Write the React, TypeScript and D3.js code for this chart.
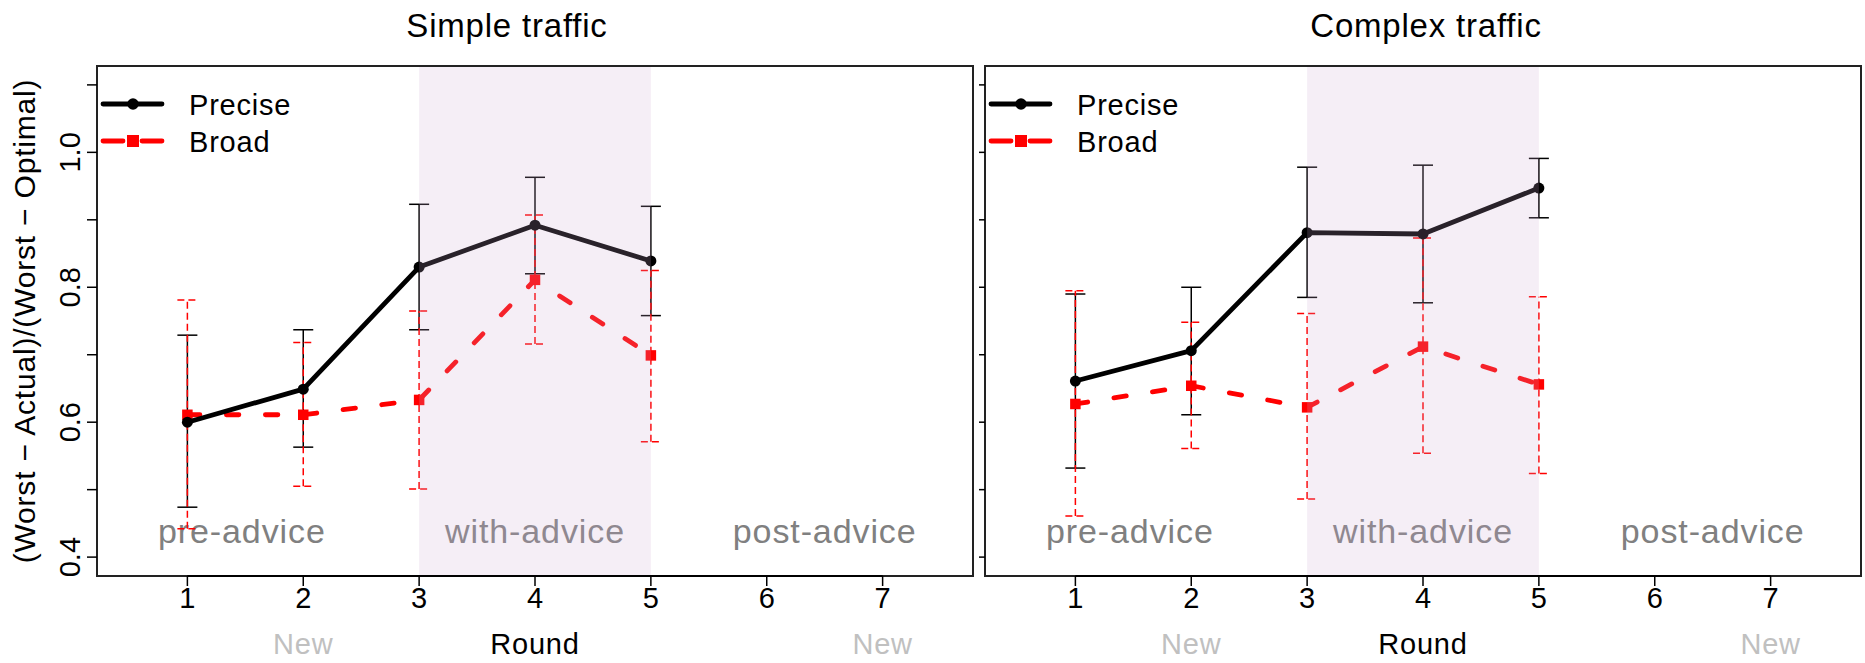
import React from "react";
import * as d3 from "d3";

// Rounds on the x axis and the rounds that carry measurements
const axisRounds = [1, 2, 3, 4, 5, 6, 7];
const rounds = [1, 2, 3, 4, 5];
const newRounds = [2, 7];

// y axis ticks (labels only every second tick)
const yTicks = [0.4, 0.5, 0.6, 0.7, 0.8, 0.9, 1.0, 1.1];
const yTickLabels = [0.4, 0.6, 0.8, 1.0];

// Phases of the experiment
const phaseLabels = ["pre-advice", "with-advice", "post-advice"];
const phaseCenters = [1.47, 4, 6.5];
const adviceSpan = [3, 5];

const panelTitles = ["Simple traffic", "Complex traffic"];
const seriesNames = ["Precise", "Broad"];

// Simple traffic
const simplePreciseMean = [0.600, 0.649, 0.830, 0.892, 0.839];
const simplePreciseLo = [0.474, 0.563, 0.737, 0.820, 0.758];
const simplePreciseHi = [0.729, 0.737, 0.923, 0.963, 0.920];
const simpleBroadMean = [0.611, 0.611, 0.633, 0.811, 0.699];
const simpleBroadLo = [0.442, 0.505, 0.501, 0.716, 0.571];
const simpleBroadHi = [0.781, 0.718, 0.765, 0.907, 0.825];

// Complex traffic
const complexPreciseMean = [0.661, 0.706, 0.881, 0.879, 0.947];
const complexPreciseLo = [0.532, 0.611, 0.785, 0.777, 0.903];
const complexPreciseHi = [0.790, 0.800, 0.978, 0.981, 0.991];
const complexBroadMean = [0.627, 0.654, 0.622, 0.712, 0.656];
const complexBroadLo = [0.461, 0.561, 0.486, 0.554, 0.524];
const complexBroadHi = [0.795, 0.748, 0.761, 0.873, 0.786];

type Series = { mean: number[]; lo: number[]; hi: number[] };

const panels = [
  {
    title: panelTitles[0],
    left: 97,
    titleX: 507,
    tickLen: 10,
    yLabels: true,
    precise: { mean: simplePreciseMean, lo: simplePreciseLo, hi: simplePreciseHi },
    broad: { mean: simpleBroadMean, lo: simpleBroadLo, hi: simpleBroadHi },
  },
  {
    title: panelTitles[1],
    left: 985,
    titleX: 1426,
    tickLen: 6,
    yLabels: false,
    precise: { mean: complexPreciseMean, lo: complexPreciseLo, hi: complexPreciseHi },
    broad: { mean: complexBroadMean, lo: complexBroadLo, hi: complexBroadHi },
  },
];

const W = 1865;
const H = 663;
const PANEL_W = 876;
const TOP = 66;
const BOTTOM = 576;
const FONT = "'Liberation Sans', Arial, Helvetica, sans-serif";
const RED = "#ff0000";
const CAP = 10;

function ErrorBars({ s, x, y, color, dash }: { s: Series; x: any; y: any; color: string; dash?: string }) {
  return (
    <g stroke={color} strokeWidth={1.5} fill="none" strokeDasharray={dash}>
      {rounds.map((r, i) => (
        <g key={r}>
          <line x1={x(r)} x2={x(r)} y1={y(s.lo[i])} y2={y(s.hi[i])} />
          <line x1={x(r) - CAP} x2={x(r) + CAP} y1={y(s.lo[i])} y2={y(s.lo[i])} />
          <line x1={x(r) - CAP} x2={x(r) + CAP} y1={y(s.hi[i])} y2={y(s.hi[i])} />
        </g>
      ))}
    </g>
  );
}

function Panel({ p }: { p: (typeof panels)[number] }) {
  const x = d3.scaleLinear().domain([0.22, 7.78]).range([p.left, p.left + PANEL_W]);
  const y = d3.scaleLinear().domain([0.372, 1.128]).range([BOTTOM, TOP]);
  const line = d3
    .line<number>()
    .x((_, i) => x(rounds[i]))
    .y((d) => y(d));

  const lx0 = p.left + 6;
  const lx1 = p.left + 65;
  const lm = p.left + 36;
  const ly = [104, 141];

  return (
    <g fontFamily={FONT}>
      {/* title */}
      <text x={p.titleX} y={37} fontSize={33} letterSpacing={0.8} textAnchor="middle" fill="#000">
        {p.title}
      </text>

      {/* phase labels */}
      {phaseLabels.map((t, i) => (
        <text
          key={t}
          x={x(phaseCenters[i])}
          y={543}
          fontSize={34}
          letterSpacing={0.9}
          textAnchor="middle"
          fill="#808080"
        >
          {t}
        </text>
      ))}

      {/* error bars */}
      <ErrorBars s={p.precise} x={x} y={y} color="#000" />
      <ErrorBars s={p.broad} x={x} y={y} color={RED} dash="7 4" />

      {/* broad series */}
      <path
        d={line(p.broad.mean) || ""}
        fill="none"
        stroke={RED}
        strokeWidth={4.8}
        strokeDasharray="12.5 26.5"
        strokeLinecap="round"
      />
      {rounds.map((r, i) => (
        <rect
          key={r}
          x={x(r) - 5.25}
          y={y(p.broad.mean[i]) - 5.25}
          width={10.5}
          height={10.5}
          fill={RED}
        />
      ))}

      {/* precise series */}
      <path
        d={line(p.precise.mean) || ""}
        fill="none"
        stroke="#000"
        strokeWidth={4.8}
        strokeLinejoin="round"
        strokeLinecap="round"
      />
      {rounds.map((r, i) => (
        <circle key={r} cx={x(r)} cy={y(p.precise.mean[i])} r={5.5} fill="#000" />
      ))}

      {/* with-advice shading */}
      <rect
        x={x(adviceSpan[0])}
        y={TOP}
        width={x(adviceSpan[1]) - x(adviceSpan[0])}
        height={BOTTOM - TOP}
        fill="rgb(204,170,210)"
        fillOpacity={0.2}
      />

      {/* legend */}
      <line x1={lx0} x2={lx1} y1={ly[0]} y2={ly[0]} stroke="#000" strokeWidth={4.8} strokeLinecap="round" />
      <circle cx={lm} cy={ly[0]} r={5.75} fill="#000" />
      <line x1={lx0} x2={lm - 10} y1={ly[1]} y2={ly[1]} stroke={RED} strokeWidth={4.8} strokeLinecap="round" />
      <line x1={lm + 9} x2={lx1} y1={ly[1]} y2={ly[1]} stroke={RED} strokeWidth={4.8} strokeLinecap="round" />
      <rect x={lm - 6} y={ly[1] - 6} width={12} height={12} fill={RED} />
      {seriesNames.map((n, i) => (
        <text key={n} x={p.left + 92} y={ly[i] + 11} fontSize={29} letterSpacing={0.8} fill="#000">
          {n}
        </text>
      ))}

      {/* frame */}
      <rect x={p.left} y={TOP} width={PANEL_W} height={BOTTOM - TOP} fill="none" stroke="#222" strokeWidth={2} />

      {/* x axis */}
      <line x1={x(1)} x2={x(7)} y1={BOTTOM} y2={BOTTOM} stroke="#000" strokeWidth={2} />
      {axisRounds.map((r) => (
        <g key={r}>
          <line x1={x(r)} x2={x(r)} y1={BOTTOM} y2={BOTTOM + 10} stroke="#000" strokeWidth={1.5} />
          <text x={x(r)} y={608} fontSize={29} textAnchor="middle" fill="#000">
            {r}
          </text>
        </g>
      ))}
      {newRounds.map((r) => (
        <text key={r} x={x(r)} y={654} fontSize={29} letterSpacing={0.8} textAnchor="middle" fill="#c0c0c0">
          New
        </text>
      ))}
      <text x={x(4)} y={654} fontSize={29} letterSpacing={0.8} textAnchor="middle" fill="#000">
        Round
      </text>

      {/* y axis */}
      {yTicks.map((v) => (
        <line
          key={v}
          x1={p.left - p.tickLen}
          x2={p.left}
          y1={y(v)}
          y2={y(v)}
          stroke="#000"
          strokeWidth={1.5}
        />
      ))}
      {p.yLabels &&
        yTickLabels.map((v) => (
          <text
            key={v}
            transform={`translate(80,${y(v)}) rotate(-90)`}
            fontSize={29}
            textAnchor="middle"
            fill="#000"
          >
            {v.toFixed(1)}
          </text>
        ))}
      {p.yLabels && (
        <text
          transform={`translate(35,${(TOP + BOTTOM) / 2}) rotate(-90)`}
          fontSize={30}
          letterSpacing={0.8}
          textAnchor="middle"
          fill="#000"
        >
          (Worst − Actual)/(Worst − Optimal)
        </text>
      )}
    </g>
  );
}

export default function App() {
  return (
    <div style={{ position: "absolute", left: 0, top: 0 }}>
      <svg width={W} height={H} viewBox={`0 0 ${W} ${H}`} style={{ display: "block", background: "#fff" }}>
        <rect width={W} height={H} fill="#fff" />
        {panels.map((p) => (
          <Panel key={p.title} p={p} />
        ))}
      </svg>
    </div>
  );
}
